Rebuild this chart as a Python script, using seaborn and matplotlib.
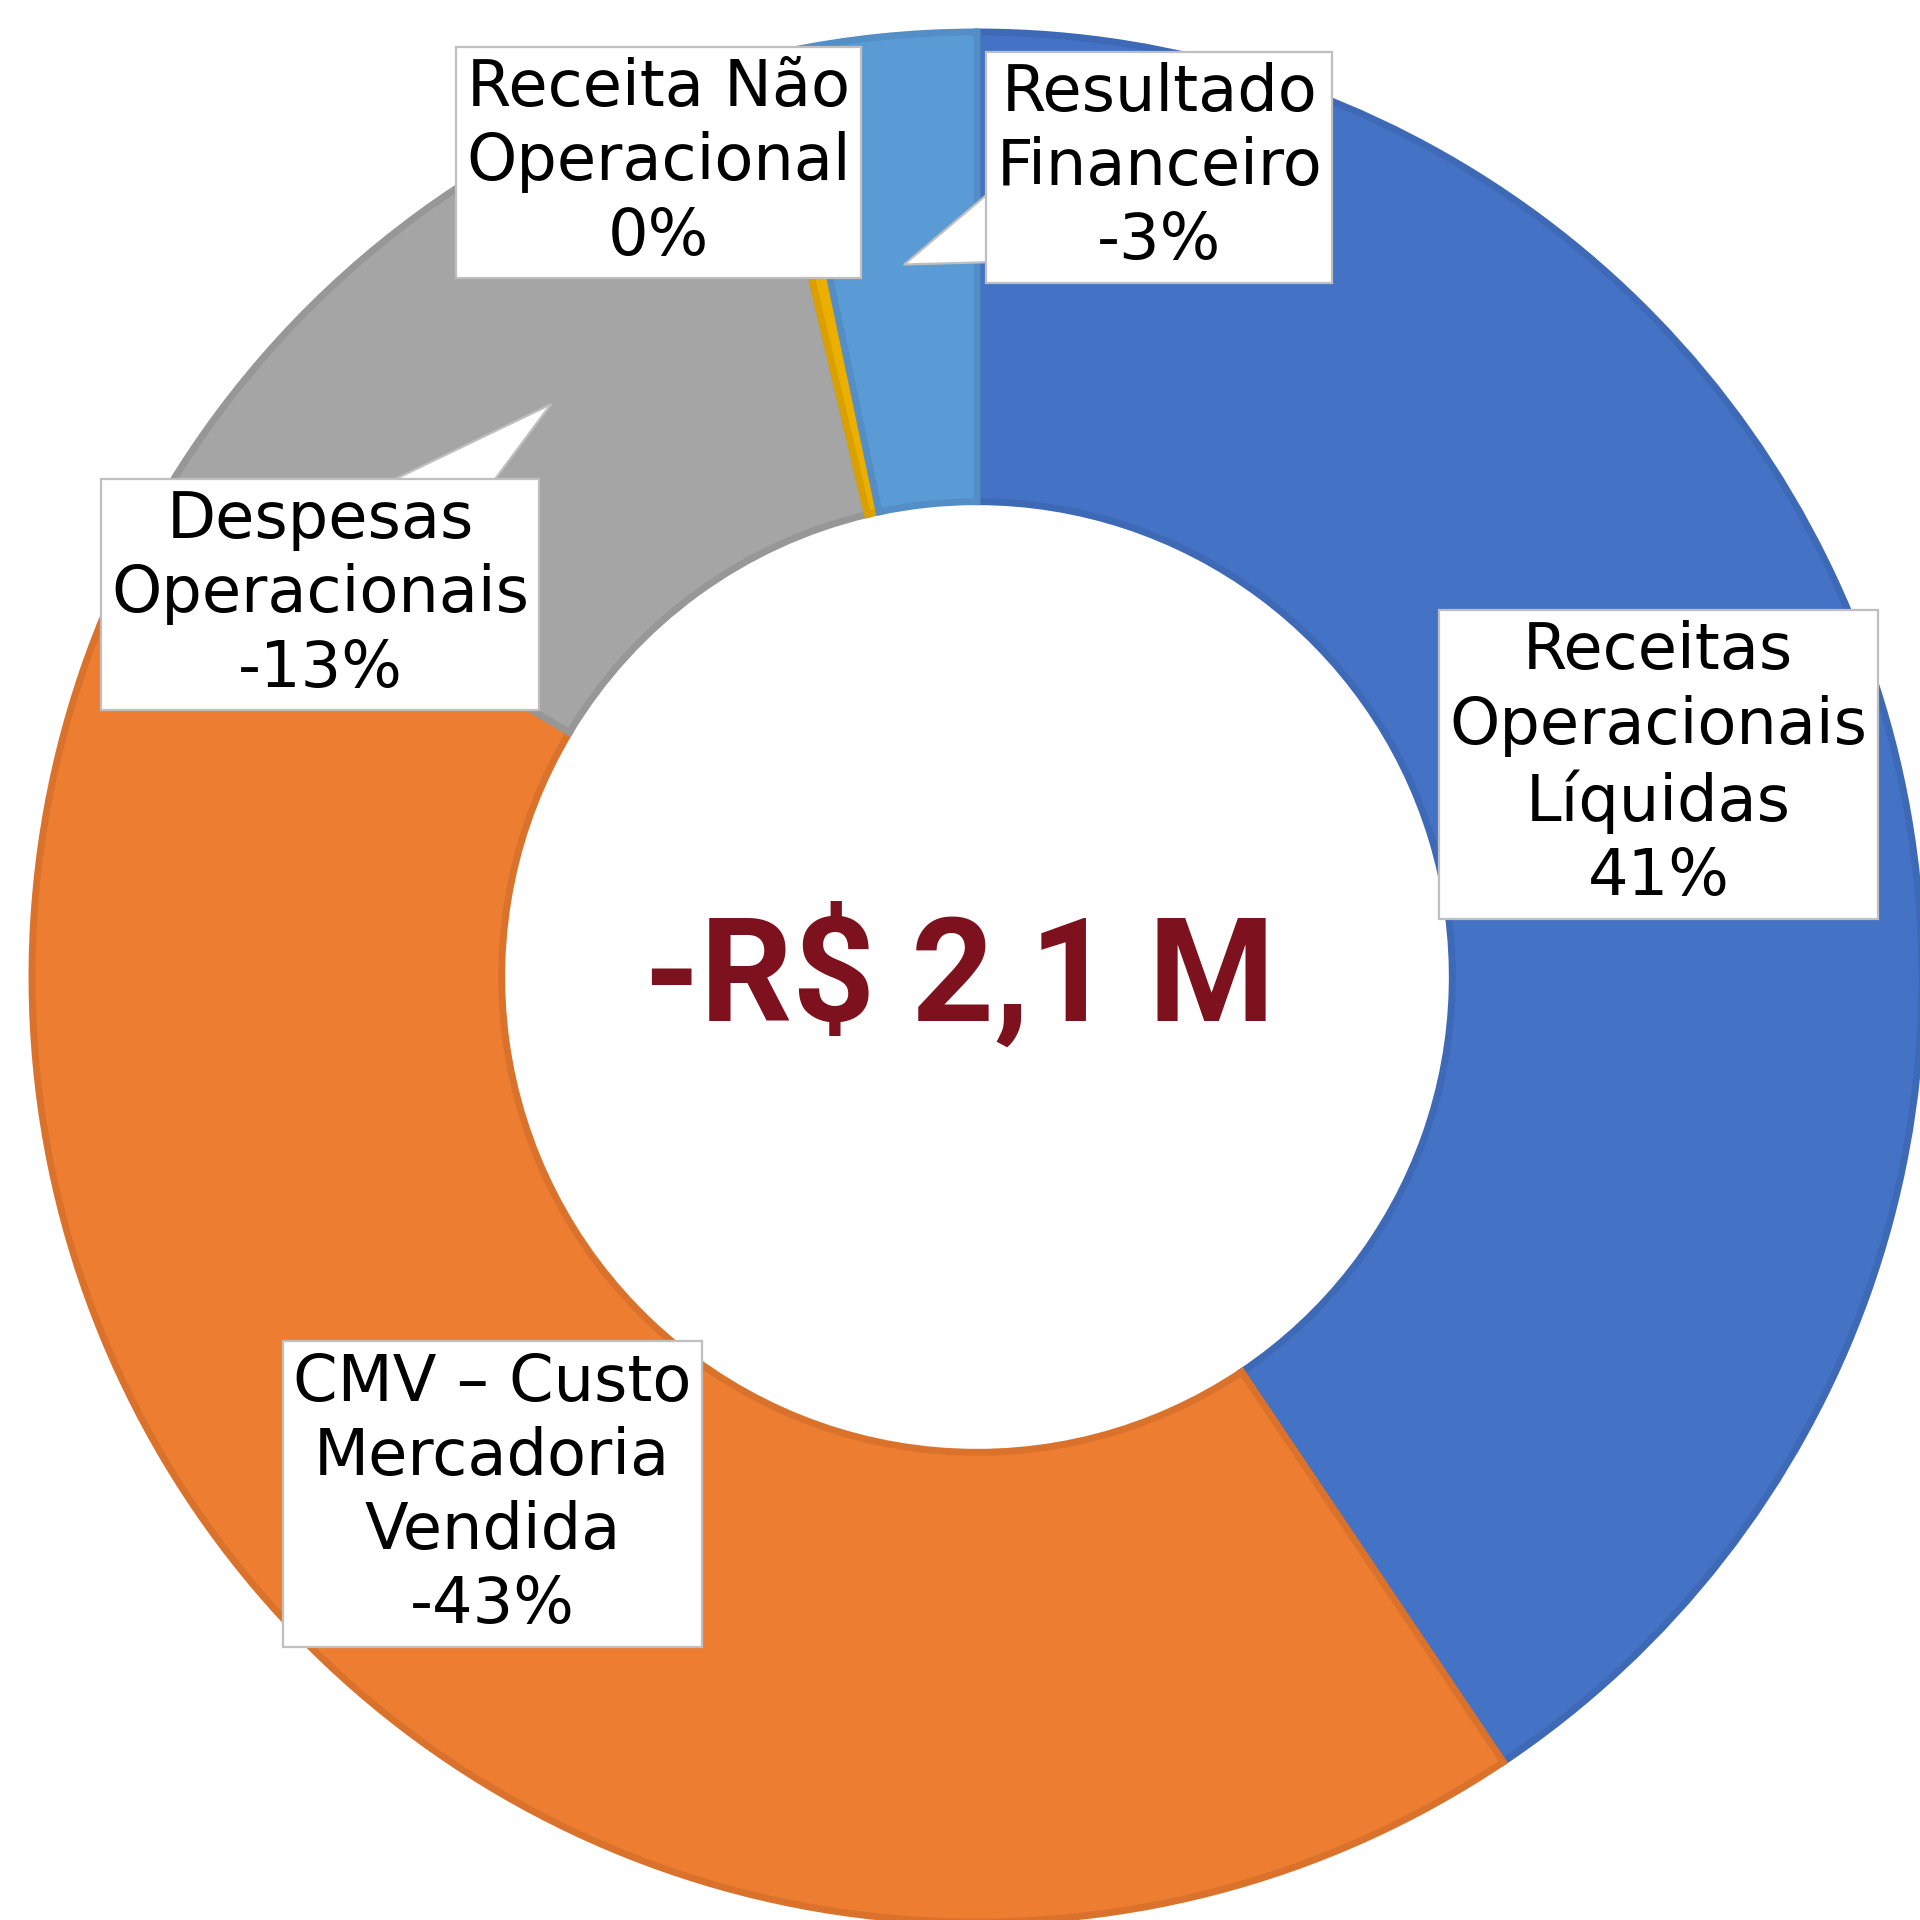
import matplotlib.pyplot as plt
import seaborn as sns

# share of each line in the result (signed, % of the total movement)
categories = [
    "Receitas\nOperacionais\nLíquidas",
    "CMV – Custo\nMercadoria\nVendida",
    "Despesas\nOperacionais",
    "Receita Não\nOperacional",
    "Resultado\nFinanceiro",
]
shares = [40.6, -43.0, -12.7, 0.4, -3.3]
center_label = "-R$ 2,1 M"

colors = ["#4472C4", "#ED7D31", "#A5A5A5", "#EBAF00", "#5B9BD5"]
edge_colors = ["#3E69B6", "#DA722C", "#979797", "#D9A000", "#538FC6"]

# label box centres (data coords), callout tips and callout widths
label_pos = [(0.721, 0.225), (-0.513, -0.547), (-0.695, 0.405), (-0.337, 0.862), (0.193, 0.857)]
label_tip = [None, None, (-0.451, 0.606), None, (-0.077, 0.754)]
tip_width = [0, 0, 2.3, 0, 3.0]

sns.set_theme(style="white")
plt.rcParams["font.family"] = ["DejaVu Sans"]

fig = plt.figure(figsize=(19.2, 19.2), dpi=100)
ax = fig.add_axes([0, 0, 1, 1])

wedges, _ = ax.pie(
    [abs(s) for s in shares],
    colors=colors,
    startangle=90,
    counterclock=False,
    radius=1.0,
    wedgeprops=dict(width=0.497, linewidth=5),
)
for w, ec in zip(wedges, edge_colors):
    w.set_edgecolor(ec)

box = dict(boxstyle="square,pad=0.16", fc="white", ec="#BFBFBF", lw=1.6)
for cat, s, pos, tip, tw in zip(categories, shares, label_pos, label_tip, tip_width):
    txt = f"{cat}\n{round(s):.0f}%"
    if tip is None:
        ax.text(pos[0], pos[1], txt, ha="center", va="center", fontsize=46,
                linespacing=1.25, color="black", bbox=box, zorder=5)
    else:
        ax.annotate(
            txt, xy=tip, xytext=pos, ha="center", va="center", fontsize=46,
            linespacing=1.25, color="black", bbox=box, zorder=5,
            arrowprops=dict(arrowstyle=f"wedge,tail_width={tw},shrink_factor=0.5",
                            fc="white", ec="#BFBFBF", lw=1.6, patchA=None,
                            shrinkA=0, shrinkB=0),
        )

ax.text(-0.018, 0.0, center_label, ha="center", va="center", fontsize=104,
        fontweight="bold", color="#7D111D", family=["Roboto", "DejaVu Sans"])

ax.set_xlim(-977 / 945, (1920 - 977) / 945)
ax.set_ylim(-(1920 - 977) / 945, 977 / 945)
ax.set_aspect("equal")
ax.axis("off")

fig.savefig("out.png", dpi=100, facecolor="white")
